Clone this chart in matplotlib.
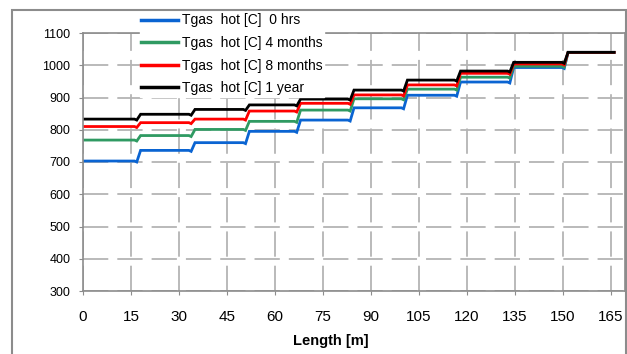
import numpy as np
import matplotlib.pyplot as plt
from matplotlib.patches import Rectangle

plt.rcParams['font.family'] = ['Liberation Sans', 'DejaVu Sans']

# positions (m) where the temperature steps up
step_x = [16.8, 33.8, 50.8, 66.8, 83.5, 100.2, 116.8, 133.4, 150.4]
x_start, x_end = 0, 166

# plateau temperatures [C] between the steps
t_0hrs = [703, 736, 760, 795, 830, 868, 907, 948, 993, 1040]
t_4mon = [768, 782, 801, 826, 861, 896, 926, 963, 997, 1040]
t_8mon = [810, 822, 833, 858, 882, 908, 939, 975, 1004, 1040]
t_1yr = [833, 848, 863, 877, 895, 923, 954, 982, 1009, 1040]

labels = ["Tgas  hot [C]  0 hrs", "Tgas  hot [C] 4 months",
          "Tgas  hot [C] 8 months", "Tgas  hot [C] 1 year"]
colors = ["#0a64d2", "#2f9a62", "#ff0000", "#000000"]
x_ticks = [0, 15, 30, 45, 60, 75, 90, 105, 120, 135, 150, 165]
y_ticks = [300, 400, 500, 600, 700, 800, 900, 1000, 1100]


def step_path(levels, dip=3.0):
    # plateau, small dip just before the step, short ramp up to the next one
    xs, ys = [x_start], [levels[0]]
    for i, s in enumerate(step_x):
        xs += [s - 0.7, s, s + 1.2]
        ys += [levels[i], levels[i] - dip, levels[i + 1]]
    xs.append(x_end)
    ys.append(levels[-1])
    return xs, ys


fig = plt.figure(figsize=(6.27, 3.54), dpi=100)
ax = fig.add_axes([83 / 627, 1 - 291 / 354, 542 / 627, 258 / 354])

for levels, c, lab in zip([t_0hrs, t_4mon, t_8mon, t_1yr], colors, labels):
    xs, ys = step_path(levels)
    ax.plot(xs, ys, color=c, lw=2.0, label=lab, solid_joinstyle='miter')

ax.set_xlim(0, 169.4)
ax.set_ylim(300, 1100)
ax.set_xticks(x_ticks)
ax.set_yticks(y_ticks)
ax.grid(True, color="#b4b4b4", lw=1.3, linestyle=(0, (14, 5)))
ax.set_axisbelow(True)
for sp in ax.spines.values():
    sp.set_color("#8c8c8c")
    sp.set_linewidth(1.2)
ax.tick_params(axis='both', direction='out', length=3, color="#8c8c8c")
ax.tick_params(axis='x', pad=11, labelsize=11)
ax.tick_params(axis='y', pad=6, labelsize=9)

ax.set_xlabel("Length [m]", fontsize=10.5, fontweight='bold')
ax.xaxis.set_label_coords(0.457, -0.165)

leg = fig.legend(loc='upper left', bbox_to_anchor=(140 / 627, 1 - 12 / 354),
                 fontsize=10, frameon=True, fancybox=False, framealpha=1,
                 edgecolor='white', facecolor='white', borderpad=0.1,
                 handlelength=2.6, handletextpad=0.3, labelspacing=0.62,
                 borderaxespad=0)
leg.set_zorder(1)
for line in leg.get_lines():
    line.set_linewidth(2.5)

# outer chart frame
fig.patches.append(Rectangle((12 / 627, -0.05), 614 / 627, 1.05 - 10 / 354,
                             transform=fig.transFigure, fill=False,
                             edgecolor="#8c8c8c", lw=1.5, zorder=0))

fig.savefig("out.png", dpi=100)
